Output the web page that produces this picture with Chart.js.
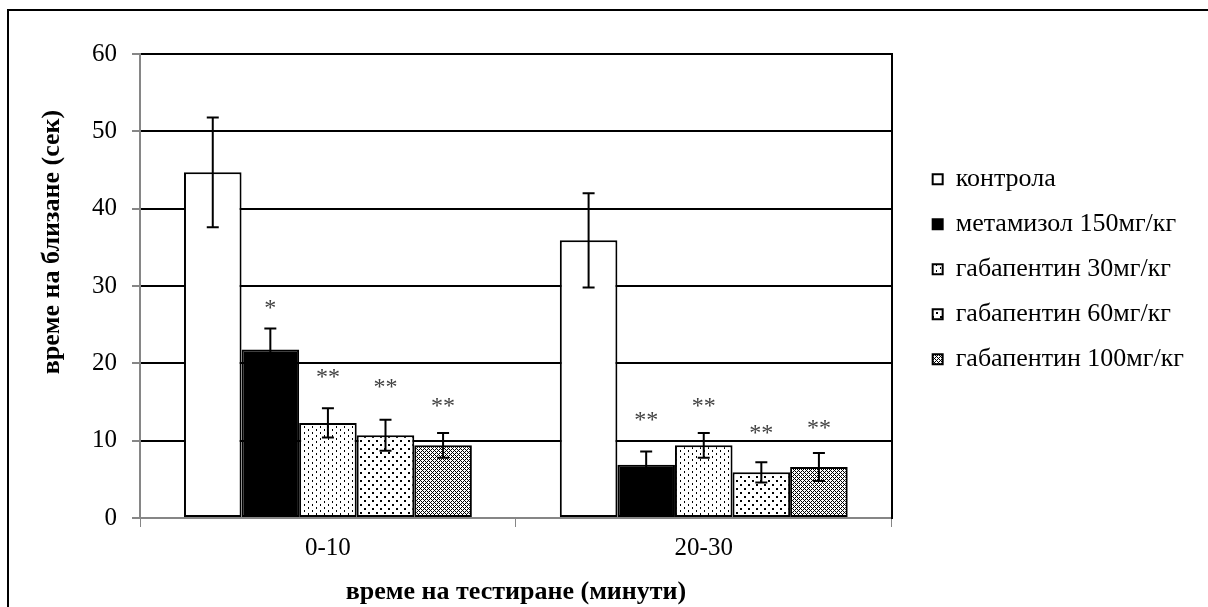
<!DOCTYPE html>
<html>
<head>
<meta charset="utf-8">
<script src="https://cdn.jsdelivr.net/npm/chart.js@4.4.1/dist/chart.umd.min.js"></script>
<style>
  html, body { margin: 0; padding: 0; background: #fff; overflow: hidden; }
  canvas { display: block; }
</style>
</head>
<body>
<canvas id="chart" width="1208" height="607"></canvas>
<script>
// categories and series
const categories = ['0-10', '20-30'];
const seriesNames = ['контрола', 'метамизол 150мг/кг', 'габапентин 30мг/кг', 'габапентин 60мг/кг', 'габапентин 100мг/кг'];

// mean values
const control = [44.7, 35.9];
const metamizole = [21.8, 6.9];
const gaba30 = [12.3, 9.4];
const gaba60 = [10.7, 5.9];
const gaba100 = [9.4, 6.6];

// error bar sizes (+/-)
const errControl = [7.1, 6.1];
const errMetamizole = [2.7, 1.7];
const errGaba30 = [1.9, 1.6];
const errGaba60 = [2.0, 1.3];
const errGaba100 = [1.6, 1.8];

// significance marks and the value level where each one sits
const starsControl = ['', ''];
const starsMetamizole = ['*', '**'];
const starsGaba30 = ['**', '**'];
const starsGaba60 = ['**', '**'];
const starsGaba100 = ['**', '**'];
const starLevelControl = [0, 0];
const starLevelMetamizole = [27.3, 12.8];
const starLevelGaba30 = [18.4, 14.7];
const starLevelGaba60 = [17.1, 11.1];
const starLevelGaba100 = [14.7, 11.8];

const yTicks = [0, 10, 20, 30, 40, 50, 60];

const FONT = '"Liberation Serif", "Times New Roman", serif';
const AXIS_GREY = '#868686';

const ctx = document.getElementById('chart').getContext('2d');

// fill patterns for the bars
function makePattern(w, h, draw) {
  const c = document.createElement('canvas');
  c.width = w; c.height = h;
  const g = c.getContext('2d');
  g.fillStyle = '#fff';
  g.fillRect(0, 0, w, h);
  g.fillStyle = '#000';
  draw(g);
  return ctx.createPattern(c, 'repeat');
}
const sparseDots = makePattern(8, 6, g => {
  g.fillRect(0, 0, 1, 2);
  g.fillRect(4, 3, 1, 2);
});
const bigDots = makePattern(8, 8, g => {
  g.fillRect(0, 0, 2, 2);
  g.fillRect(4, 4, 2, 2);
});
const mesh = makePattern(4, 4, g => {
  [[0, 0], [1, 3], [2, 2], [3, 1], [1, 1], [3, 3]].forEach(p => g.fillRect(p[0], p[1], 1, 1));
});

// white page, outer frame, axis titles
const frame = {
  id: 'frame',
  beforeDraw(chart) {
    const c = chart.ctx;
    c.save();
    c.fillStyle = '#fff';
    c.fillRect(0, 0, chart.width, chart.height);
    c.strokeStyle = '#000';
    c.lineWidth = 2;
    c.strokeRect(8, 10, chart.width + 40, chart.height + 40);
    c.restore();
  },
  afterDraw(chart) {
    const c = chart.ctx;
    c.save();
    c.fillStyle = '#000';
    c.font = 'bold 26px ' + FONT;
    c.textAlign = 'center';
    c.textBaseline = 'middle';
    c.fillText('време на тестиране (минути)', 516, 592);
    c.translate(52, 242);
    c.rotate(-Math.PI / 2);
    c.fillText('време на близане (сек)', 0, 0);
    c.restore();
  }
};

// error bars and asterisks
const errorBars = {
  id: 'errorBars',
  afterDatasetsDraw(chart) {
    const c = chart.ctx;
    const y = chart.scales.y;
    c.save();
    c.strokeStyle = '#000';
    c.lineWidth = 2;
    c.fillStyle = '#404040';
    c.font = '24px ' + FONT;
    c.textAlign = 'center';
    c.textBaseline = 'middle';
    chart.data.datasets.forEach((ds, i) => {
      chart.getDatasetMeta(i).data.forEach((bar, j) => {
        const top = y.getPixelForValue(ds.data[j] + ds.errors[j]);
        const bot = y.getPixelForValue(ds.data[j] - ds.errors[j]);
        c.beginPath();
        c.moveTo(bar.x, top); c.lineTo(bar.x, bot);
        c.moveTo(bar.x - 6, top); c.lineTo(bar.x + 6, top);
        c.moveTo(bar.x - 6, bot); c.lineTo(bar.x + 6, bot);
        c.stroke();
        if (ds.stars[j]) {
          c.fillText(ds.stars[j], bar.x, y.getPixelForValue(ds.starLevel[j]) + 2);
        }
      });
    });
    c.restore();
  }
};

function series(i, values, errors, stars, starLevel, fill) {
  return {
    label: seriesNames[i],
    data: values,
    errors: errors,
    stars: stars,
    starLevel: starLevel,
    backgroundColor: fill,
    borderColor: '#000',
    borderWidth: 2,
    borderSkipped: false,
    categoryPercentage: 0.766,
    barPercentage: 1.0
  };
}

const chart = new Chart(ctx, {
  type: 'bar',
  data: {
    labels: categories,
    datasets: [
      series(0, control, errControl, starsControl, starLevelControl, '#fff'),
      series(1, metamizole, errMetamizole, starsMetamizole, starLevelMetamizole, '#000'),
      series(2, gaba30, errGaba30, starsGaba30, starLevelGaba30, sparseDots),
      series(3, gaba60, errGaba60, starsGaba60, starLevelGaba60, bigDots),
      series(4, gaba100, errGaba100, starsGaba100, starLevelGaba100, mesh)
    ]
  },
  options: {
    responsive: false,
    animation: false,
    devicePixelRatio: 1,
    layout: { padding: { top: 54, right: 14, bottom: 0, left: 0 } },
    plugins: {
      tooltip: { enabled: false },
      legend: {
        position: 'right',
        align: 'start',
        maxWidth: 340,
        title: { display: true, text: ' ', font: { size: 1 }, padding: { top: 92, bottom: 0 } },
        labels: {
          font: { family: FONT, size: 26 },
          color: '#000',
          boxWidth: 10,
          boxHeight: 10,
          padding: 19
        }
      }
    },
    scales: {
      x: {
        offset: true,
        afterFit: s => { s.height = 89; },
        grid: { drawOnChartArea: false, drawTicks: true, tickLength: 9, tickColor: AXIS_GREY, offset: true },
        border: { color: AXIS_GREY, width: 2 },
        ticks: { font: { family: FONT, size: 25 }, color: '#000', padding: 6 }
      },
      y: {
        min: yTicks[0],
        max: yTicks[yTicks.length - 1],
        afterFit: s => { s.width = 140; },
        afterBuildTicks: s => { s.ticks = yTicks.map(v => ({ value: v })); },
        grid: {
          color: c => (c.tick && c.tick.value === 0 ? 'rgba(0,0,0,0)' : '#000'),
          lineWidth: 2,
          tickLength: 8,
          tickColor: AXIS_GREY
        },
        border: { color: AXIS_GREY, width: 2 },
        ticks: { font: { family: FONT, size: 25 }, color: '#000', padding: 15 }
      },
      y2: {
        position: 'right',
        afterFit: s => { s.width = 22; },
        grid: { drawOnChartArea: false, drawTicks: false },
        border: { color: '#000', width: 2 },
        ticks: { display: false }
      }
    }
  },
  plugins: [frame, errorBars]
});
</script>
</body>
</html>
